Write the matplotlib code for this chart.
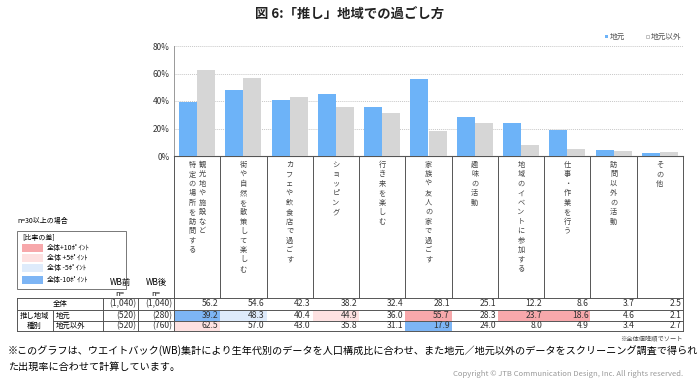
import matplotlib.pyplot as plt
from matplotlib import transforms
from matplotlib.patches import Rectangle

plt.rcParams['font.family'] = ['Noto Sans CJK JP', 'DejaVu Sans']

categories = [
    "観光地や施設など特定の場所を訪問する",
    "街や自然を散策して楽しむ",
    "カフェや飲食店で過ごす",
    "ショッピング",
    "行き来を楽しむ",
    "家族や友人の家で過ごす",
    "趣味の活動",
    "地域のイベントに参加する",
    "仕事・作業を行う",
    "訪問以外の活動",
    "その他",
]
# vertical label columns (right column read first)
label_cols = [
    ["観光地や施設など", "特定の場所を訪問する"],
    ["街や自然を散策して楽しむ"],
    ["カフェや飲食店で過ごす"],
    ["ショッピング"],
    ["行き来を楽しむ"],
    ["家族や友人の家で過ごす"],
    ["趣味の活動"],
    ["地域のイベントに参加する"],
    ["仕事・作業を行う"],
    ["訪問以外の活動"],
    ["その他"],
]
total = [56.2, 54.6, 42.3, 38.2, 32.4, 28.1, 25.1, 12.2, 8.6, 3.7, 2.5]
jimoto = [39.2, 48.3, 40.4, 44.9, 36.0, 55.7, 28.3, 23.7, 18.6, 4.6, 2.1]
other = [62.5, 57.0, 43.0, 35.8, 31.1, 17.9, 24.0, 8.0, 4.9, 3.4, 2.7]
n_before = ["(1,040)", "(520)", "(520)"]
n_after = ["(1,040)", "(280)", "(760)"]

# highlight level vs total: +10, +5, -5, -10
hl_colors = {2: "#f7a8ab", 1: "#fde1e1", -1: "#deebfb", -2: "#7db5f5"}
legend_labels = ["全体+10ﾎﾟｲﾝﾄ", "全体 +5ﾎﾟｲﾝﾄ", "全体 -5ﾎﾟｲﾝﾄ", "全体-10ﾎﾟｲﾝﾄ"]

blue = "#6db3f8"
grey = "#d6d6d6"

fig = plt.figure(figsize=(7, 3.86), dpi=100)
W, H = 700, 386

# overlay in pixel coordinates
ov = fig.add_axes([0, 0, 1, 1])
ov.set_xlim(0, W)
ov.set_ylim(H, 0)
ov.axis("off")

ax_l, ax_r, ax_t, ax_b = 174, 683, 46, 156
ax = fig.add_axes([ax_l / W, 1 - ax_b / H, (ax_r - ax_l) / W, (ax_b - ax_t) / H])
x = list(range(len(categories)))
bw = 0.39
ax.bar([i - bw / 2 for i in x], jimoto, bw, color=blue, zorder=3)
ax.bar([i + bw / 2 for i in x], other, bw, color=grey, zorder=3)
ax.set_xlim(-0.5, len(categories) - 0.5)
ax.set_ylim(0, 80)
ax.set_yticks([0, 20, 40, 60, 80])
ax.set_yticklabels(["0%", "20%", "40%", "60%", "80%"], fontsize=6, color="#333333")
ax.set_xticks([])
ax.tick_params(axis="y", length=0, pad=3)
ax.grid(axis="y", color="#c8c8c8", linestyle=(0, (1, 1)), linewidth=0.7, zorder=0)
for s in ["top", "right"]:
    ax.spines[s].set_visible(False)
ax.spines["left"].set_color("#999999")
ax.spines["left"].set_linewidth(0.7)
ax.spines["bottom"].set_color("#555555")
ax.spines["bottom"].set_linewidth(0.8)
ax.patch.set_alpha(0)

# blended: x from bar axis categories, y in pixels
bt = transforms.blended_transform_factory(ax.transData, ov.transData)

tab_top, r1, r2, tab_bot = 298, 310, 321, 331
line_kw = dict(color="#555555", linewidth=0.7)

# category label area separators
for i in range(len(categories) + 1):
    ov.plot([i - 0.5, i - 0.5], [ax_b, tab_top], transform=bt, **line_kw)

# vertical category labels
for i, cols in enumerate(label_cols):
    k = len(cols)
    for j, txt in enumerate(cols):
        off = 0.0 if k == 1 else (0.11 if j == 0 else -0.11)
        ov.text(i + off, 161, "\n".join(txt), transform=bt, ha="center", va="top",
                fontsize=5.2, linespacing=1.24, color="#444444")

# table
ov.plot([17, ax_r], [tab_top, tab_top], **line_kw)
ov.plot([17, ax_r], [r1, r1], **line_kw)
ov.plot([53, ax_r], [r2, r2], **line_kw)
ov.plot([17, ax_r], [tab_bot, tab_bot], **line_kw)
ov.plot([17, 17], [tab_top, tab_bot], **line_kw)
ov.plot([ax_r, ax_r], [tab_top, tab_bot], **line_kw)
ov.plot([53, 53], [r1, tab_bot], **line_kw)
for vx in [103, 138, 174]:
    ov.plot([vx, vx], [tab_top, tab_bot], **line_kw)

row_y = [(tab_top + r1) / 2, (r1 + r2) / 2, (r2 + tab_bot) / 2]
fs = 5.3
ov.text(60, row_y[0], "全体", ha="center", va="center", fontsize=fs)
ov.text(34, row_y[1], "推し地域", ha="center", va="center", fontsize=fs)
ov.text(34, row_y[2], "種別", ha="center", va="center", fontsize=fs)
ov.text(56, row_y[1], "地元", ha="left", va="center", fontsize=fs)
ov.text(56, row_y[2], "地元以外", ha="left", va="center", fontsize=fs)
nfs = 6.2
for k in range(3):
    ov.text(136, row_y[k], n_before[k], ha="right", va="center", fontsize=nfs, color="#333333")
    ov.text(172, row_y[k], n_after[k], ha="right", va="center", fontsize=nfs, color="#333333")

def level(v, t):
    d = v - t
    if d >= 10:
        return 2
    if d >= 5:
        return 1
    if d <= -10:
        return -2
    if d <= -5:
        return -1
    return 0

rows = [total, jimoto, other]
bounds = [(tab_top, r1), (r1, r2), (r2, tab_bot)]
for k, vals in enumerate(rows):
    for i, v in enumerate(vals):
        if k > 0:
            lv = level(v, total[i])
            if lv != 0:
                y0, y1 = bounds[k]
                ov.add_patch(Rectangle((i - 0.5, y0 + 0.5), 1, y1 - y0 - 1, transform=bt,
                                       facecolor=hl_colors[lv], edgecolor="none", zorder=1))
        ov.text(i + 0.46, row_y[k], f"{v:.1f}", transform=bt, ha="right", va="center",
                fontsize=nfs, color="#333333", zorder=2)

# WB header
ov.text(120, 283, "WB前", ha="center", va="center", fontsize=6)
ov.text(120, 294, "n=", ha="center", va="center", fontsize=5.5)
ov.text(156, 283, "WB後", ha="center", va="center", fontsize=6)
ov.text(156, 294, "n=", ha="center", va="center", fontsize=5.5)

# highlight legend
ov.text(17, 221, "n=30以上の場合", ha="left", va="center", fontsize=5)
ov.add_patch(Rectangle((17, 231), 109, 58, facecolor="none", edgecolor="#777777", linewidth=0.7))
ov.text(22, 238, "[比率の差]", ha="left", va="center", fontsize=5)
for lv, lab, yy in zip([2, 1, -1, -2], legend_labels, [248, 258, 268, 280]):
    ov.add_patch(Rectangle((22, yy - 4), 21, 8, facecolor=hl_colors[lv], edgecolor="none"))
    ov.text(47, yy, lab, ha="left", va="center", fontsize=5)

# series legend
ov.add_patch(Rectangle((605, 35), 3, 3, facecolor=blue, edgecolor="none"))
ov.text(610, 37, "地元", ha="left", va="center", fontsize=5.5, color="#555555")
ov.add_patch(Rectangle((646, 35), 3, 3, facecolor="white", edgecolor="#aaaaaa", linewidth=0.5))
ov.text(651, 37, "地元以外", ha="left", va="center", fontsize=5.5, color="#555555")

# title
ov.text(350, 15, "図 6:「推し」地域での過ごし方", ha="center", va="center",
        fontsize=9.6, fontweight="bold", color="#222222")

# notes
ov.text(683, 338, "※全体値降順でソート", ha="right", va="center", fontsize=4.5, color="#444444")
ov.text(8, 351, "※このグラフは、ウエイトバック(WB)集計により生年代別のデータを人口構成比に合わせ、"
        "また地元／地元以外のデータをスクリーニング調査で得られ", ha="left", va="center", fontsize=7.25)
ov.text(8, 367, "た出現率に合わせて計算しています。", ha="left", va="center", fontsize=7.25)
ov.text(683, 374, "Copyright © JTB Communication Design, Inc. All rights reserved.",
        ha="right", va="center", fontsize=5.5, color="#999999")

fig.savefig("out.png", dpi=100)
